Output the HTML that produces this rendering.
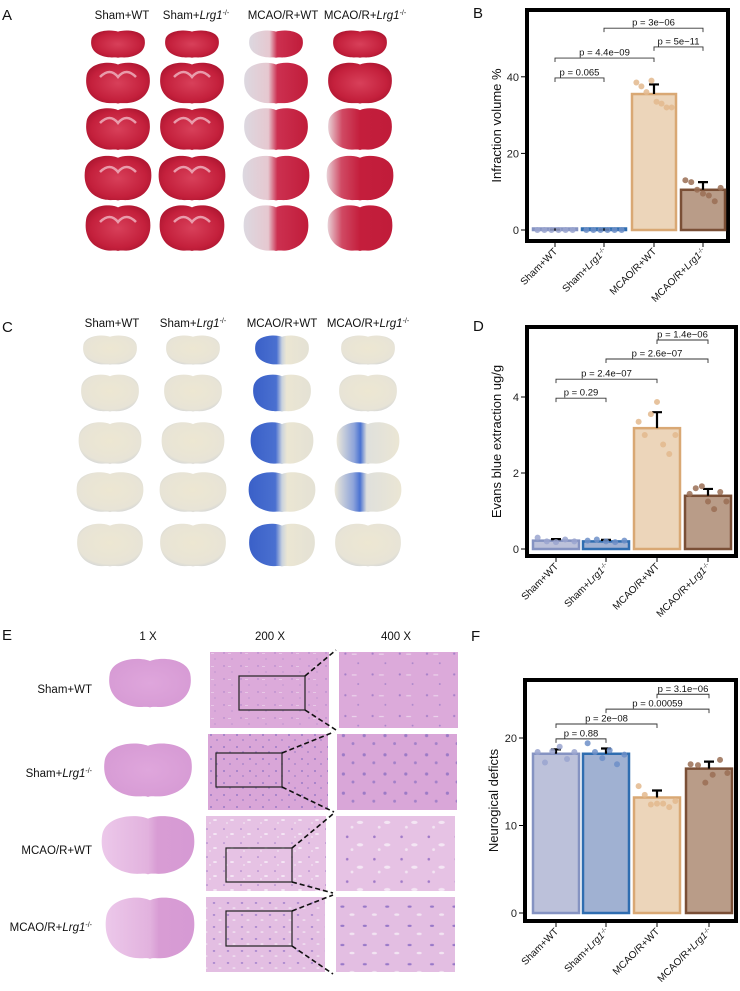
<!DOCTYPE html>
<html><head><meta charset="utf-8">
<style>
html,body{margin:0;padding:0;background:#fff;}
svg{display:block;font-family:"Liberation Sans",Arial,sans-serif;}
</style></head>
<body>
<svg id="fig" width="740" height="991" viewBox="0 0 740 991" xmlns="http://www.w3.org/2000/svg">
<defs>
  <radialGradient id="ttc" cx="50%" cy="50%" r="60%">
    <stop offset="0" stop-color="#d8405a"/><stop offset="0.7" stop-color="#c4203c"/><stop offset="1" stop-color="#a8142e"/>
  </radialGradient>
  <linearGradient id="ttcInf" x1="0" x2="1" y1="0" y2="0">
    <stop offset="0" stop-color="#dcd8e0"/><stop offset="0.38" stop-color="#e6c8d0"/><stop offset="0.52" stop-color="#cc3050"/><stop offset="1" stop-color="#c01c3a"/>
  </linearGradient>
  <linearGradient id="ttcPart" x1="0" x2="1" y1="0" y2="0">
    <stop offset="0" stop-color="#e8d0d6"/><stop offset="0.22" stop-color="#d04a64"/><stop offset="0.5" stop-color="#c41e3c"/><stop offset="1" stop-color="#c01c3a"/>
  </linearGradient>
  <radialGradient id="eb" cx="50%" cy="45%" r="65%">
    <stop offset="0" stop-color="#ede7d2"/><stop offset="0.75" stop-color="#e8e4d6"/><stop offset="1" stop-color="#c6ccd6"/>
  </radialGradient>
  <linearGradient id="ebInf" x1="0" x2="1" y1="0" y2="0">
    <stop offset="0" stop-color="#3a60c8"/><stop offset="0.4" stop-color="#4a70d0"/><stop offset="0.5" stop-color="#c9d2de"/><stop offset="0.58" stop-color="#ebe6d3"/><stop offset="1" stop-color="#e4e1d4"/>
  </linearGradient>
  <linearGradient id="ebPart" x1="0" x2="1" y1="0" y2="0">
    <stop offset="0" stop-color="#ece8da"/><stop offset="0.28" stop-color="#8ea4da"/><stop offset="0.38" stop-color="#4a72d2"/><stop offset="0.48" stop-color="#dfe0dc"/><stop offset="1" stop-color="#ebe6d4"/>
  </linearGradient>
  <radialGradient id="he" cx="50%" cy="50%" r="60%">
    <stop offset="0" stop-color="#dfa6dc"/><stop offset="1" stop-color="#d69ad4"/>
  </radialGradient>
  <linearGradient id="heInf" x1="0" x2="1">
    <stop offset="0" stop-color="#ecc8ea"/><stop offset="0.5" stop-color="#e2b2de"/><stop offset="0.6" stop-color="#d89cd4"/><stop offset="1" stop-color="#d69ad4"/>
  </linearGradient>
  <pattern id="cells" width="17" height="13" patternUnits="userSpaceOnUse">
    <rect width="17" height="13" fill="#dcaada"/>
    <circle cx="3" cy="3" r="0.7" fill="#a680c8"/><circle cx="11" cy="9" r="0.6" fill="#aa86ca"/>
    <rect x="7" y="3" width="3" height="0.7" fill="#ecd6ec"/>
  </pattern>
  <pattern id="cells2" width="13" height="12" patternUnits="userSpaceOnUse">
    <rect width="13" height="12" fill="#d9a6d8"/>
    <circle cx="3" cy="3" r="1" fill="#9c7ac6"/><circle cx="9" cy="8" r="0.9" fill="#a280c8"/>
  </pattern>
  <pattern id="cells3" width="17" height="14" patternUnits="userSpaceOnUse">
    <rect width="17" height="14" fill="#e6c2e4"/>
    <circle cx="3" cy="3" r="0.8" fill="#a07ac8"/><ellipse cx="11" cy="8" rx="2" ry="1" fill="#f4e6f4"/>
    <circle cx="6" cy="11" r="0.9" fill="#f2e4f2"/>
  </pattern>
  <pattern id="cells4" width="14" height="12" patternUnits="userSpaceOnUse">
    <rect width="14" height="12" fill="#e3bee2"/>
    <ellipse cx="4" cy="3" rx="1.3" ry="0.7" fill="#9878c8"/><ellipse cx="10" cy="8" rx="1.6" ry="0.8" fill="#f2e4f2"/>
  </pattern>
</defs>

<g id="labels" font-size="15" fill="#111">
  <text x="2" y="20">A</text>
  <text x="473" y="18">B</text>
  <text x="2" y="332">C</text>
  <text x="473" y="331">D</text>
  <text x="2" y="640">E</text>
  <text x="471" y="641">F</text>
</g>

<g id="panelA"></g>
<g id="panelC"></g>
<g id="panelE"></g>
<g id="chartB"></g>
<g id="chartD"></g>
<g id="chartF"></g>
</svg>

<script>
// ---------- chart data ----------
const groupNames = ["Sham+WT", "Sham+", "MCAO/R+WT", "MCAO/R+"];
const groupItalic = ["", "Lrg1", "", "Lrg1"];

const bMeans = [0.1, 0.1, 35.5, 10.5];
const bErrTop = [0.1, 0.1, 38.0, 12.5];
const bPoints = [[0,0,0,0,0,0],[0,0,0,0,0,0],[38.5,37.5,36,39,33.5,33,32,32],[13,12.5,10.5,9.5,9,7.5,11]];
const bTicks = [0, 20, 40];
const bBrackets = [[0,1,39.7,"p = 0.065"],[0,2,44.9,"p = 4.4e−09"],[2,3,47.8,"p = 5e−11"],[1,3,52.7,"p = 3e−06"]];

const dMeans = [0.22, 0.2, 3.18, 1.4];
const dErrTop = [0.26, 0.24, 3.6, 1.58];
const dPoints = [[0.3,0.2,0.18,0.25,0.2],[0.22,0.25,0.2,0.18,0.22],[3.35,3.0,3.55,3.87,2.75,2.5,3.0],[1.45,1.6,1.65,1.25,1.05,1.5,1.25]];
const dTicks = [0, 2, 4];
const dBrackets = [[0,1,3.97,"p = 0.29"],[0,2,4.47,"p = 2.4e−07"],[1,3,5.0,"p = 2.6e−07"],[2,3,5.5,"p = 1.4e−06"]];

const fMeans = [18.2, 18.2, 13.2, 16.5];
const fErrTop = [18.7, 18.8, 14.0, 17.3];
const fPoints = [[18.4,17.2,18.5,19,17.6,18.4],[19.4,18.4,17.7,18.6,17,18.1],[14.5,13.5,12.4,12.5,12.5,12.1,12.8],[17,16.9,14.9,15.8,17.5,16]];
const fTicks = [0, 10, 20];
const fBrackets = [[0,1,19.9,"p = 0.88"],[0,2,21.6,"p = 2e−08"],[1,3,23.3,"p = 0.00059"],[2,3,25.0,"p = 3.1e−06"]];

const barFill = ["#bcc1da","#a0b1d2","#ecd5ba","#b99c88"];
const barStroke = ["#8593c2","#2f6db0","#d9a874","#7a4f36"];
const dotFill = ["#9aa5cf","#6d8fc8","#e3b98d","#9a6e55"];

const NS = "http://www.w3.org/2000/svg";
function mk(tag, attrs, parent){
  const e = document.createElementNS(NS, tag);
  for (const k in attrs) e.setAttribute(k, attrs[k]);
  if (parent) parent.appendChild(e);
  return e;
}

function drawChart(gid, cfg, means, errTop, points, ticks, brackets){
  const g = document.getElementById(gid);
  const yS = v => cfg.y0 - (v - 0) * cfg.pxPerUnit;
  const xC = i => cfg.centers[i];
  const box = mk("rect", {x:cfg.bx+2, y:cfg.by+2, width:cfg.bw-4, height:cfg.bh-4, fill:"#fff", stroke:"#000", "stroke-width":4}, g);
  
  
  means.forEach((m, i) => {
    const top = yS(m), bot = yS(0);
    const h = Math.max(bot - top, 1.5);
    const r = mk("rect", {x:xC(i)-cfg.bw2+1.5, y:bot-h, width:cfg.bw2*2-3, height:h, fill:barFill[i], stroke:barStroke[i], "stroke-width":2.5}, g);
    
    
    const e = mk("path", {d:`M${xC(i)},${top}V${yS(errTop[i])}M${xC(i)-5},${yS(errTop[i])}H${xC(i)+5}`, stroke:"#000", "stroke-width":2.2, fill:"none"}, g);
    
    
    const n = points[i].length;
    points[i].forEach((v, j) => {
      const px = xC(i) - cfg.bw2*0.75 + (n>1 ? j*(cfg.bw2*1.5)/(n-1) : 0);
      const c = mk("circle", {cx:px, cy:yS(v), r:3, fill:dotFill[i], opacity:0.85}, g);
      
      
    });
    const t = mk("line", {x1:xC(i), x2:xC(i), y1:cfg.by+cfg.bh, y2:cfg.by+cfg.bh+4, stroke:"#000", "stroke-width":1}, g);
    
    
    const lbl = mk("text", {x:0, y:0, "font-size":10, "text-anchor":"end", fill:"#111",
      transform:`translate(${xC(i)+3},${cfg.by+cfg.bh+9}) rotate(-45)`}, g);
    
    
    lbl.appendChild(document.createTextNode(groupNames[i]));
    if (groupItalic[i]) {
      const it = mk("tspan", {"font-style":"italic"}, lbl); it.textContent = groupItalic[i];
      const sp = mk("tspan", {"font-size":6, dy:-3}, lbl); sp.textContent = "-/-";
    }
  });
  ticks.forEach(v => {
    const y = yS(v);
    const t = mk("line", {x1:cfg.bx-4, x2:cfg.bx, y1:y, y2:y, stroke:"#000", "stroke-width":1}, g);
    
    
    const tl = mk("text", {x:cfg.bx-6, y:y+4, "font-size":11, "text-anchor":"end", fill:"#222"}, g);
    
    
    tl.textContent = v;
  });
  const yt = mk("text", {x:0, y:0, "font-size":13, "text-anchor":"middle", fill:"#111",
    transform:`translate(${cfg.titleX},${cfg.by+cfg.bh/2}) rotate(-90)`}, g);
  
  
  yt.textContent = cfg.title;
  brackets.forEach(b => {
    const x1 = xC(b[0]), x2 = xC(b[1]), y = yS(b[2]);
    const p = mk("path", {d:`M${x1},${y+4}V${y}H${x2}V${y+4}`, stroke:"#333", "stroke-width":0.9, fill:"none"}, g);
    
    
    const t = mk("text", {x:(x1+x2)/2, y:y-2.5, "font-size":9.5, "text-anchor":"middle", fill:"#111"}, g);
    
    
    t.textContent = b[3];
  });
}

drawChart("chartB", {bx:525, by:8, bw:205, bh:235, y0:230, pxPerUnit:3.83, centers:[555,604,654,703], bw2:23.5, titleX:501, title:"Infraction volume %"}, bMeans, bErrTop, bPoints, bTicks, bBrackets);
drawChart("chartD", {bx:525, by:325, bw:213, bh:233, y0:549, pxPerUnit:38, centers:[556,606,657,708], bw2:24.5, titleX:501, title:"Evans blue extraction ug/g"}, dMeans, dErrTop, dPoints, dTicks, dBrackets);
drawChart("chartF", {bx:523, by:678, bw:215, bh:245, y0:913, pxPerUnit:8.75, centers:[556,606,657,709], bw2:24.5, titleX:498, title:"Neurogical deficts"}, fMeans, fErrTop, fPoints, fTicks, fBrackets);

// ---------- photo-like panels ----------
const brainD = "M0,-0.88 C0.25,-1.05 0.88,-1 0.98,-0.38 C1.05,0.22 0.9,0.76 0.42,0.93 C0.22,1 0.08,0.92 0,0.98 C-0.08,0.92 -0.22,1 -0.42,0.93 C-0.9,0.76 -1.05,0.22 -0.98,-0.38 C-0.88,-1 -0.25,-1.05 0,-0.88Z";
function brain(parent, cx, cy, w, h, fill, name){
  const b = mk("path", {d:brainD, fill:fill, transform:`translate(${cx},${cy}) scale(${w/2},${h/2})`}, parent);
  
  
  return b;
}
function colTitles(parent, xs, y){
  xs.forEach((x, i) => {
    const t = mk("text", {x:x, y:y, "font-size":11.5, "text-anchor":"middle", fill:"#111"}, parent);
    
    
    t.appendChild(document.createTextNode(groupNames[i]));
    if (groupItalic[i]) {
      const it = mk("tspan", {"font-style":"italic"}, t); it.textContent = groupItalic[i];
      const sp = mk("tspan", {"font-size":7, dy:-4}, t); sp.textContent = "-/-";
    }
  });
}
const A = document.getElementById("panelA");
colTitles(A, [122,196,283,365], 19);
const aRows = [[44,54,28],[83,64,42],[129,64,43],[178,67,46],[228,65,47]];
const aCols = [118,192,276,360];
aRows.forEach((r, ri) => aCols.forEach((x, ci) => {
  const fill = ci===2 ? "url(#ttcInf)" : (ci===3 && ri>1 ? "url(#ttcPart)" : "url(#ttc)");
  brain(A, x, r[0], r[1], r[2], fill, 'ttc-slice');
  if (ci<2 && ri>0) {
    const s = mk("path", {d:`M${x-18},${r[0]-6} Q${x-8},${r[0]-16} ${x},${r[0]-6} Q${x+8},${r[0]-16} ${x+18},${r[0]-6}`, stroke:"#f0b8c4", "stroke-width":2.5, fill:"none", opacity:0.8}, A);
    
    
  }
}));

const C = document.getElementById("panelC");
colTitles(C, [112,193,282,368], 327);
const cRows = [[350,54,30],[393,58,38],[443,63,43],[492,67,41],[545,66,44]];
const cCols = [110,193,282,368];
cRows.forEach((r, ri) => cCols.forEach((x, ci) => {
  const fill = ci===2 ? "url(#ebInf)" : (ci===3 && (ri===2||ri===3) ? "url(#ebPart)" : "url(#eb)");
  brain(C, x, r[0], r[1], r[2], fill, 'evans-blue-slice');
}));

const E = document.getElementById("panelE");
[["1 X",148],["200 X",270],["400 X",396]].forEach(t => {
  const e = mk("text", {x:t[1], y:640, "font-size":11.5, "text-anchor":"middle", fill:"#111"}, E);
  
  
  e.textContent = t[0];
});
const eRows = [
  {label:"Sham+WT", ly:693, b:[150,683,82,50], im:[210,652,119,76], z:[339,652,119,76], box:[239,676,66,34], fill:"url(#he)", pat:"url(#cells)"},
  {label:"Sham+", it:"Lrg1", ly:777, b:[148,770,88,55], im:[208,734,120,76], z:[337,734,120,76], box:[216,753,66,34], fill:"url(#he)", pat:"url(#cells2)"},
  {label:"MCAO/R+WT", ly:854, b:[148,845,93,60], im:[206,816,120,75], z:[336,816,119,75], box:[226,848,66,34], fill:"url(#heInf)", pat:"url(#cells3)"},
  {label:"MCAO/R+", it:"Lrg1", ly:931, b:[150,928,89,63], im:[206,897,119,75], z:[336,897,119,75], box:[226,911,66,35], fill:"url(#heInf)", pat:"url(#cells4)"}
];
eRows.forEach(r => {
  const t = mk("text", {x:92, y:r.ly, "font-size":11.5, "text-anchor":"end", fill:"#111"}, E);
  
  
  t.appendChild(document.createTextNode(r.label));
  if (r.it) {
    const it = mk("tspan", {"font-style":"italic"}, t); it.textContent = r.it;
    const sp = mk("tspan", {"font-size":7, dy:-4}, t); sp.textContent = "-/-";
  }
  brain(E, r.b[0], r.b[1], r.b[2], r.b[3], r.fill, 'he-whole-brain');
  const i1 = mk("rect", {x:r.im[0], y:r.im[1], width:r.im[2], height:r.im[3], fill:r.pat}, E);
  
  
  const i2 = mk("rect", {x:r.z[0], y:r.z[1], width:r.z[2]/1.6, height:r.z[3]/1.6, fill:r.pat, transform:`translate(${r.z[0]},${r.z[1]}) scale(1.6) translate(${-r.z[0]},${-r.z[1]})`}, E);
  
  
  const bx = mk("rect", {x:r.box[0], y:r.box[1], width:r.box[2], height:r.box[3], fill:"none", stroke:"#222", "stroke-width":1.2}, E);
  
  
  const dl = mk("path", {d:`M${r.box[0]+r.box[2]},${r.box[1]}L${r.z[0]-3},${r.z[1]-2}M${r.box[0]+r.box[2]},${r.box[1]+r.box[3]}L${r.z[0]-3},${r.z[1]+r.z[3]+2}`, stroke:"#111", "stroke-width":1.6, "stroke-dasharray":"5,3", fill:"none"}, E);
  
  
});
</script>
</body></html>
